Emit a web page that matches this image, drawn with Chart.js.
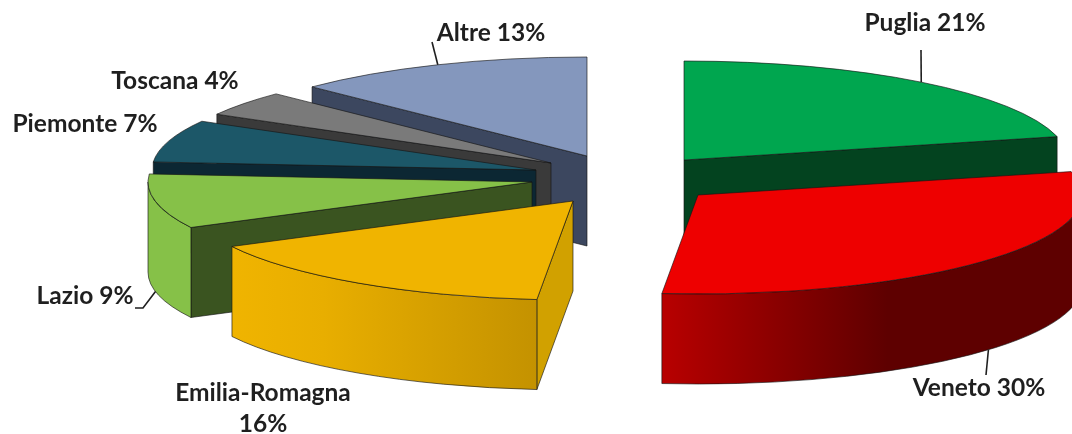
<!DOCTYPE html>
<html>
<head>
<meta charset="utf-8">
<title>Ripartizione per regione</title>
<script src="https://cdn.jsdelivr.net/npm/chart.js@4/dist/chart.umd.min.js"></script>
<style>
  html, body { margin: 0; padding: 0; background: #fff; }
  canvas { display: block; }
</style>
</head>
<body>
<canvas id="pie3d" width="1072" height="434"></canvas>
<script>
const categories = ['Puglia', 'Veneto', 'Emilia-Romagna', 'Lazio', 'Piemonte', 'Toscana', 'Altre'];
const shares = [21.2, 30.3, 15.9, 8.9, 6.9, 4.1, 12.7];

const topColors = ['#00a64f', '#ee0000', '#f0b400', '#86c148', '#1c5768', '#7a7a7a', '#8497bd'];
const cutColors = ['#03431f', '#600000', '#d1a100', '#3a5420', '#0c2733', '#3a3a3a', '#3c475f'];
const wallStops = [
    null,
    [[0, '#b80000'], [0.55, '#5e0000'], [1, '#5e0000']],
    [[0, '#f0b400'], [0.3, '#e8ae00'], [1, '#c49200']],
    null, null, null, null
];

// how far each slice is pulled out of the pie, in pixels
const explodeX = [84, 98, -27, -68, -64, -49, -13];
const explodeY = [-15, 20, 26, 7, -5, -12, -19];

// label centre and baseline, then where the leader line stops (null = no leader)
const labelX = [925, 979, 263, 85, 85, 175, 491];
const labelY = [31, 396, 401, 304, 132, 89, 41];
const leaderTo = [[[921, 50]], [[986, 375]], null, [[143, 308], [135, 308]], null, null, [[432, 42]]];

const pieX = 600, pieY = 175, radiusX = 384, radiusY = 99, depth = 90;
const labelFont = 'bold 24.5px Lato';

function sliceWalls(ctx, arc, i, px, py) {
    const a0 = arc.startAngle, a1 = arc.endAngle;
    const edge = a => {
        const ex = px + radiusX * Math.cos(a), ey = py + radiusY * Math.sin(a);
        ctx.beginPath();
        ctx.moveTo(px, py);
        ctx.lineTo(ex, ey);
        ctx.lineTo(ex, ey + depth);
        ctx.lineTo(px, py + depth);
        ctx.closePath();
        ctx.fillStyle = cutColors[i];
        ctx.fill();
        ctx.stroke();
    };
    if (Math.cos(a0) < -1e-6) edge(a0);
    if (Math.cos(a1) > 1e-6) edge(a1);

    // outer wall only where the rim faces the viewer
    const w0 = Math.max(a0, 0), w1 = Math.min(a1, Math.PI);
    if (w1 > w0) {
        ctx.beginPath();
        ctx.ellipse(px, py, radiusX, radiusY, 0, w0, w1);
        ctx.ellipse(px, py + depth, radiusX, radiusY, 0, w1, w0, true);
        ctx.closePath();
        if (wallStops[i]) {
            const x0 = px + radiusX * Math.cos(w1), x1 = Math.min(px + radiusX * Math.cos(w0), 1072);
            const grad = ctx.createLinearGradient(x0, 0, x1, 0);
            wallStops[i].forEach(s => grad.addColorStop(s[0], s[1]));
            ctx.fillStyle = grad;
        } else {
            ctx.fillStyle = topColors[i];
        }
        ctx.fill();
        ctx.stroke();
    }
}

const pie3d = {
    id: 'pie3d',
    beforeDatasetDraw(chart, args) {
        const ctx = chart.ctx;
        const arcs = args.meta.data;
        const order = arcs.map((a, i) => i).sort((p, q) =>
            Math.sin((arcs[p].startAngle + arcs[p].endAngle) / 2) - Math.sin((arcs[q].startAngle + arcs[q].endAngle) / 2));

        order.forEach(i => {
            const arc = arcs[i];
            const px = pieX + explodeX[i], py = pieY + explodeY[i];
            ctx.save();
            ctx.strokeStyle = 'rgba(20,20,20,0.8)';
            ctx.lineWidth = 0.8;
            sliceWalls(ctx, arc, i, px, py);

            // top face: the library's own arc, squashed into an ellipse
            ctx.save();
            ctx.translate(px, py);
            ctx.scale(radiusX / arc.outerRadius, radiusY / arc.outerRadius);
            ctx.translate(-arc.x, -arc.y);
            arc.draw(ctx);
            ctx.restore();

            ctx.beginPath();
            ctx.moveTo(px, py);
            ctx.ellipse(px, py, radiusX, radiusY, 0, arc.startAngle, arc.endAngle);
            ctx.closePath();
            ctx.stroke();
            ctx.restore();
        });
        return false;
    },
    afterDraw(chart) {
        const ctx = chart.ctx;
        const arcs = chart.getDatasetMeta(0).data;
        ctx.save();
        ctx.fillStyle = '#1f1f1f';
        ctx.strokeStyle = '#1f1f1f';
        ctx.lineWidth = 1.6;
        ctx.font = labelFont;
        ctx.textAlign = 'center';
        categories.forEach((name, i) => {
            const pct = Math.round(shares[i]) + '%';
            if (name.length > 10) {
                ctx.fillText(name, labelX[i], labelY[i]);
                ctx.fillText(pct, labelX[i], labelY[i] + 31);
            } else {
                ctx.fillText(name + ' ' + pct, labelX[i], labelY[i]);
            }
            if (leaderTo[i]) {
                const mid = (arcs[i].startAngle + arcs[i].endAngle) / 2;
                const sx = pieX + explodeX[i] + radiusX * Math.cos(mid);
                const sy = pieY + explodeY[i] + radiusY * Math.sin(mid) + (Math.sin(mid) > -0.3 ? depth : 0);
                ctx.beginPath();
                ctx.moveTo(sx, sy);
                leaderTo[i].forEach(p => ctx.lineTo(p[0], p[1]));
                ctx.stroke();
            }
        });
        ctx.restore();
    }
};

new Chart(document.getElementById('pie3d').getContext('2d'), {
    type: 'pie',
    data: {
        labels: categories,
        datasets: [{ data: shares, backgroundColor: topColors, borderWidth: 0 }]
    },
    options: {
        responsive: false,
        animation: false,
        plugins: { legend: { display: false }, tooltip: { enabled: false } }
    },
    plugins: [pie3d]
});
</script>
</body>
</html>
